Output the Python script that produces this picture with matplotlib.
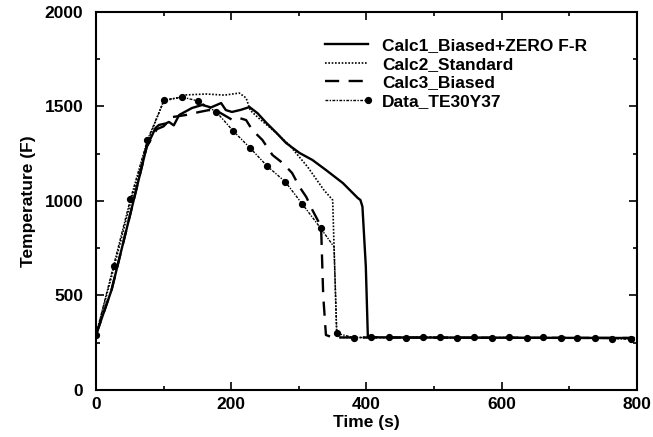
import numpy as np
import matplotlib.pyplot as plt
from matplotlib.ticker import MultipleLocator
from matplotlib.legend_handler import HandlerLine2D

plt.rcParams['font.family'] = ['Liberation Sans', 'DejaVu Sans']
plt.rcParams['font.weight'] = 'bold'

# Calc1_Biased+ZERO F-R
t_calc1 = [0, 23, 51, 75, 88, 93, 103, 108, 115, 123, 142, 157, 170, 185, 192, 201, 214,
           227, 239, 252, 267, 281, 301, 320, 340, 365, 387, 391, 394, 399, 402, 420, 795]
T_calc1 = [291, 529, 935, 1287, 1386, 1402, 1410, 1418, 1400, 1455, 1492, 1508, 1495, 1518, 1481,
           1471, 1482, 1497, 1464, 1413, 1360, 1307, 1254, 1217, 1164, 1095, 1016, 1005, 970, 653,
           282, 278, 275]

# Calc2_Standard
t_calc2 = [0, 26, 51, 76, 100, 120, 133, 163, 190, 212, 222, 228, 240, 260, 285, 313, 337, 350,
           352, 356, 360, 795]
T_calc2 = [291, 640, 990, 1310, 1530, 1545, 1561, 1566, 1560, 1571, 1545, 1480, 1440, 1380, 1300,
           1180, 1058, 1005, 760, 290, 278, 275]

# Calc3_Biased
t_calc3 = [0, 23, 51, 75, 90, 100, 113, 133, 153, 167, 182, 202, 212, 222, 231, 246, 261, 276,
           290, 301, 311, 320, 330, 333, 336, 340, 350, 795]
T_calc3 = [291, 529, 935, 1287, 1380, 1395, 1444, 1455, 1471, 1481, 1470, 1428, 1439, 1428, 1376,
           1323, 1243, 1201, 1148, 1074, 1021, 952, 884, 846, 500, 291, 278, 275]

# Data_TE30Y37 (the 352 s point is an unmarked line vertex)
t_data = [0, 26, 51, 76, 101, 127, 151, 178, 203, 228, 253, 280, 305, 332, 352, 356, 381, 407,
          433, 458, 483, 509, 534, 559, 585, 610, 637, 661, 687, 712, 738, 763, 791]
T_data = [291, 658, 1011, 1323, 1534, 1550, 1529, 1471, 1370, 1280, 1185, 1101, 984, 857, 757,
          300, 277, 278, 279, 277, 280, 279, 277, 278, 277, 279, 276, 278, 275, 277, 274, 272, 268]
data_marks = [i for i in range(len(t_data)) if t_data[i] != 352]


class EndMarkerHandler(HandlerLine2D):
    # legend line with the marker at its right end
    def create_artists(self, *args, **kwargs):
        arts = super().create_artists(*args, **kwargs)
        for a in arts:
            if a.get_marker() not in (None, 'None', ''):
                a.set_markevery([2])
        return arts


fig = plt.figure(figsize=(6.53, 4.37), dpi=100)
ax = fig.add_axes([0.147, 0.1076, 0.8285, 0.865])

ax.plot(t_calc1, T_calc1, '-', color='black', lw=1.7, label='Calc1_Biased+ZERO F-R')
ax.plot(t_calc2, T_calc2, color='black', lw=1.2, linestyle=(0, (1, 1)), label='Calc2_Standard')
ax.plot(t_calc3, T_calc3, color='black', lw=1.7, linestyle=(0, (6, 4)), label='Calc3_Biased')
data_line, = ax.plot(t_data, T_data, color='black', lw=1.0, linestyle=(0, (2, 1, 1, 1)),
                     marker='o', markersize=4.2, markevery=data_marks, label='Data_TE30Y37')

ax.set_xlim(0, 800)
ax.set_ylim(0, 2000)
ax.xaxis.set_major_locator(MultipleLocator(200))
ax.xaxis.set_minor_locator(MultipleLocator(100))
ax.yaxis.set_major_locator(MultipleLocator(500))
ax.yaxis.set_minor_locator(MultipleLocator(250))
ax.tick_params(which='both', direction='in', top=True, right=True, labelsize=12.5, width=1.2)
ax.tick_params(axis='y', pad=9)
ax.tick_params(axis='x', pad=5)
ax.tick_params(which='major', length=6)
ax.tick_params(which='minor', length=3)
for s in ax.spines.values():
    s.set_linewidth(1.5)

ax.set_xlabel('Time (s)', fontsize=12.5, fontweight='bold', labelpad=2)
ax.set_ylabel('Temperature (F)', fontsize=12.5, fontweight='bold', labelpad=6)

leg = ax.legend(loc='upper left', bbox_to_anchor=(0.41, 0.95), frameon=False, fontsize=12.5,
                handlelength=2.5, handletextpad=0.8, labelspacing=0.2, borderaxespad=0,
                handler_map={data_line: EndMarkerHandler()})

fig.savefig('out.png', dpi=100)
